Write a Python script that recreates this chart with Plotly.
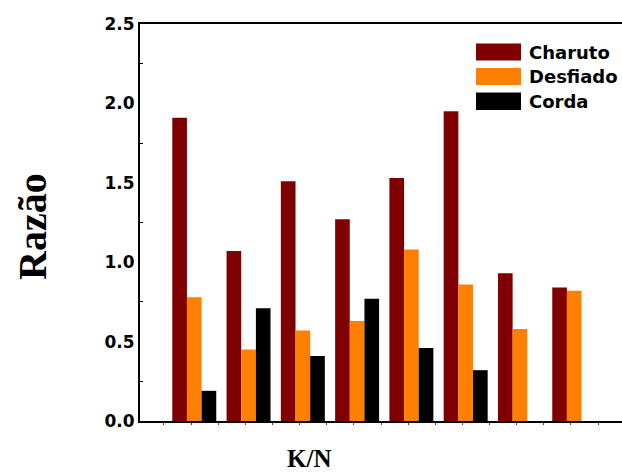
import plotly.graph_objects as go

# Ratio of three cut types across eight K/N groups
groups = [1, 2, 3, 4, 5, 6, 7, 8]
charuto = [1.91, 1.07, 1.51, 1.27, 1.53, 1.95, 0.93, 0.84]
desfiado = [0.78, 0.45, 0.57, 0.63, 1.08, 0.86, 0.58, 0.82]
corda = [0.19, 0.71, 0.41, 0.77, 0.46, 0.32, None, None]

series_names = ["Charuto", "Desfiado", "Corda"]
series_colors = ["#800000", "#FF8000", "#000000"]

W, H = 622, 476
ML, MR, MT, MB = 140, 0, 24, 55


def px_x(px):
    return (px - ML) / (W - ML - MR)


def px_y(py):
    return (H - MB - py) / (H - MT - MB)


fig = go.Figure()
for name, vals, color in zip(series_names, [charuto, desfiado, corda], series_colors):
    fig.add_trace(go.Bar(
        x=groups, y=vals, name=name,
        marker=dict(color=color, line=dict(width=0)),
        showlegend=False,
    ))

# Legend block: swatch + label per series
legend_rows = [(43.5, 60.5), (68, 85), (92.5, 110)]
shapes = []
annotations = []
for name, color, (top, bot) in zip(series_names, series_colors, legend_rows):
    shapes.append(dict(
        type="rect", xref="paper", yref="paper",
        x0=px_x(476), x1=px_x(521), y0=px_y(bot), y1=px_y(top),
        fillcolor=color, line=dict(width=0),
    ))
    annotations.append(dict(
        text=name, xref="paper", yref="paper",
        x=px_x(527), y=px_y((top + bot) / 2),
        xanchor="left", yanchor="middle", showarrow=False,
        font=dict(family="DejaVu Sans", size=18, color="black", weight="bold"),
    ))

# Axis titles
annotations.append(dict(
    text="K/N", xref="paper", yref="paper",
    x=px_x(308.5), y=px_y(459), xanchor="center", yanchor="middle",
    showarrow=False,
    font=dict(family="Liberation Serif", size=25, color="black", weight="bold"),
))
annotations.append(dict(
    text="Razão", xref="paper", yref="paper",
    x=px_x(32.5), y=px_y(226.5), xanchor="center", yanchor="middle",
    showarrow=False, textangle=-90,
    font=dict(family="Liberation Serif", size=40, color="black", weight="bold"),
))

fig.update_layout(
    width=W, height=H,
    margin=dict(l=ML, r=MR, t=MT, b=MB, pad=0),
    paper_bgcolor="white", plot_bgcolor="white",
    barmode="group", bargap=0.19, bargroupgap=0,
    shapes=shapes, annotations=annotations,
    xaxis=dict(
        range=[0, 8.88], showgrid=False, zeroline=False,
        showline=True, linecolor="black", linewidth=2, mirror=True,
        showticklabels=False, ticks="outside", ticklen=2, tickwidth=1,
        tickcolor="#444444", tick0=-0.06, dtick=0.5,
    ),
    yaxis=dict(
        range=[0, 2.5], showgrid=False, zeroline=False,
        showline=True, linecolor="black", linewidth=2,
        tick0=0, dtick=0.5, tickformat=".1f", ticks="",
        ticklabelstandoff=0,
        tickfont=dict(family="DejaVu Sans", size=17, color="black", weight="bold"),
        minor=dict(dtick=0.25, ticks="inside", ticklen=3, tickwidth=1,
                   tickcolor="black", showgrid=False),
    ),
)

fig.write_html("out.html")
